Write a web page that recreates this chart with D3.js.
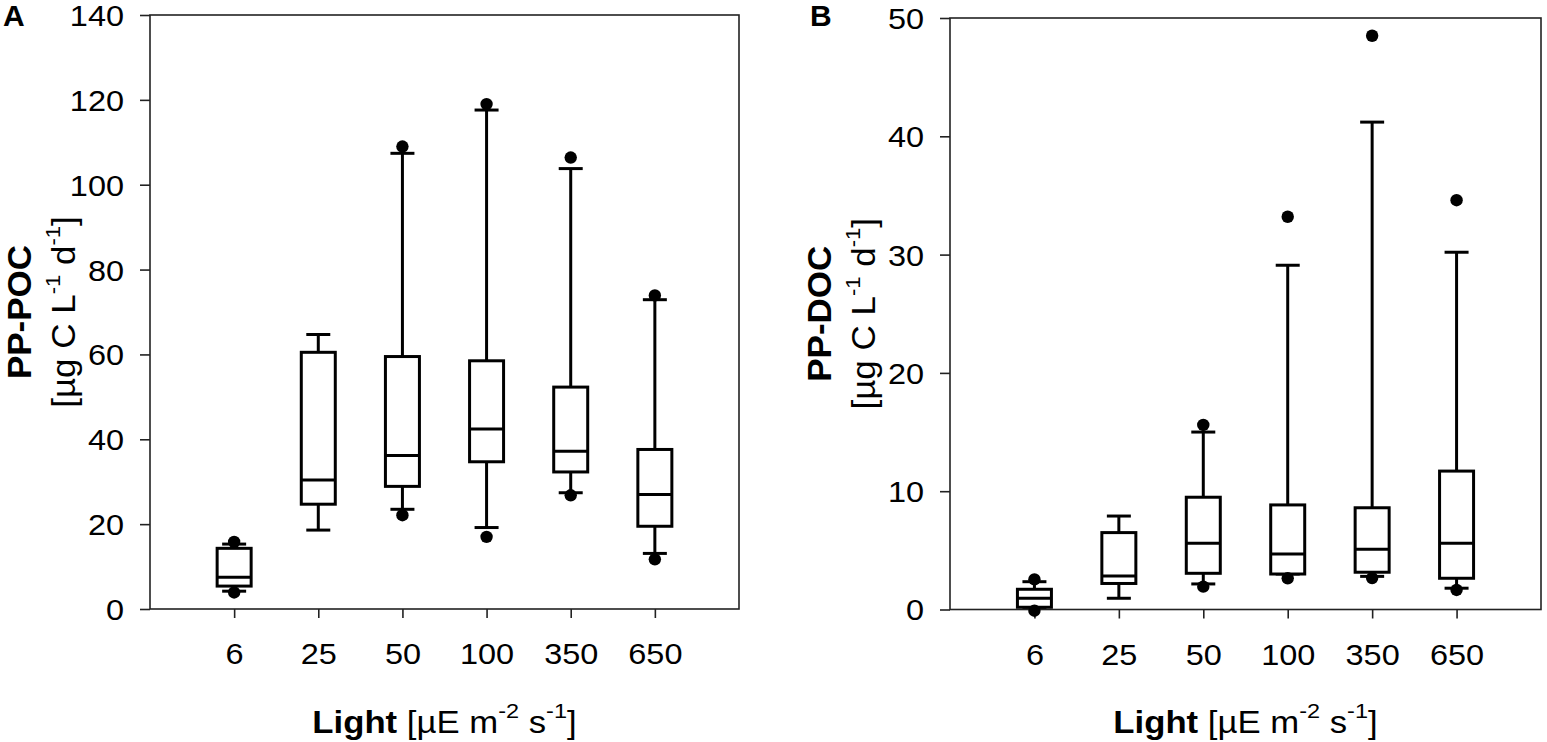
<!DOCTYPE html>
<html>
<head>
<meta charset="utf-8">
<script src="https://cdn.jsdelivr.net/npm/d3@7/dist/d3.min.js"></script>
<style>
  body { margin: 0; background: #fff; }
  svg { display: block; }
  svg text { font-family: "Liberation Sans", Arial, sans-serif; }
</style>
</head>
<body>
<svg id="chart" width="1547" height="742"></svg>
<script>
// light levels (x categories)
var lightLevels = ["6", "25", "50", "100", "350", "650"];

// panel A: PP-POC
var pocTicks = [0, 20, 40, 60, 80, 100, 120, 140];
var pocLow   = [4.2, 18.6, 23.5, 19.2, 27.4, 13.1];
var pocQ1    = [5.4, 24.7, 28.9, 34.7, 32.3, 19.5];
var pocMed   = [7.5, 30.4, 36.2, 42.4, 37.2, 27.0];
var pocQ3    = [14.3, 60.5, 59.5, 58.5, 52.3, 37.6];
var pocHigh  = [15.3, 64.7, 107.4, 117.6, 103.8, 72.9];
var pocOutLow  = [3.9, null, 22.1, 17.0, 26.8, 11.7];
var pocOutHigh = [15.8, null, 109.0, 119.0, 106.4, 73.9];

// panel B: PP-DOC
var docTicks = [0, 10, 20, 30, 40, 50];
var docLow   = [0.19, 0.95, 2.16, 3.0, 2.8, 1.8];
var docQ1    = [0.19, 2.2, 3.06, 3.0, 3.15, 2.64];
var docMed   = [0.95, 2.83, 5.6, 4.7, 5.1, 5.6];
var docQ3    = [1.71, 6.5, 9.49, 8.84, 8.6, 11.7];
var docHigh  = [2.35, 7.9, 15.0, 29.1, 41.2, 30.2];
var docOutLow  = [-0.1, null, 1.93, 2.64, 2.66, 1.65];
var docOutHigh = [2.55, null, 15.6, 33.2, 48.5, 34.6];

var svg = d3.select("#chart");
var sx = 1.12;   // horizontal stretch of the original figure text

function drawPanel(opt) {
    var x = d3.scaleLinear().domain([0, 7]).range([opt.left, opt.right]);
    var y = d3.scaleLinear().domain([0, opt.max]).range([opt.bottom, opt.top]);
    var g = svg.append("g");

    var rows = lightLevels.map(function(l, i) {
        return {label: l, pos: i + 1, lo: opt.low[i], q1: opt.q1[i], med: opt.med[i],
                q3: opt.q3[i], hi: opt.high[i], oLo: opt.outLow[i], oHi: opt.outHigh[i]};
    });

    // frame
    g.append("rect")
        .attr("x", opt.left).attr("y", y(opt.max))
        .attr("width", opt.right - opt.left).attr("height", opt.bottom - y(opt.max))
        .attr("fill", "none").attr("stroke", "#222").attr("stroke-width", 1.6);

    // y axis
    var yAxis = d3.axisLeft(y).tickValues(opt.ticks).tickSize(10).tickFormat(d3.format("d"));
    var ya = g.append("g").attr("transform", "translate(" + opt.left + ",0)").call(yAxis)
        .attr("font-family", null).attr("font-size", null);
    ya.select(".domain").remove();
    ya.selectAll(".tick line").attr("stroke", "#222").attr("stroke-width", 1.6);
    ya.selectAll(".tick text").remove();
    ya.selectAll(".tick").append("text")
        .attr("transform", "translate(-26,0) scale(" + sx + ",1)")
        .attr("dy", "0.36em")
        .attr("text-anchor", "end")
        .attr("fill", "#000")
        .style("font-size", "29px")
        .text(function(d) { return d; });

    // x axis
    var xAxis = d3.axisBottom(x).tickValues(rows.map(function(d) { return d.pos; })).tickSize(9);
    var xa = g.append("g").attr("transform", "translate(0," + opt.bottom + ")").call(xAxis)
        .attr("font-family", null).attr("font-size", null);
    xa.select(".domain").remove();
    xa.selectAll(".tick line").attr("stroke", "#222").attr("stroke-width", 1.6);
    xa.selectAll(".tick text").remove();
    xa.selectAll(".tick").append("text")
        .attr("transform", "translate(0,55) scale(" + sx + ",1)")
        .attr("text-anchor", "middle")
        .attr("fill", "#000")
        .style("font-size", "29px")
        .text(function(d, i) { return lightLevels[i]; });

    var boxW = 34, capW = 24;
    var box = g.selectAll(".box").data(rows).enter().append("g").attr("class", "box")
        .attr("stroke", "#000").attr("stroke-width", 3).attr("fill", "none");

    // whiskers
    box.append("line")
        .attr("x1", function(d) { return x(d.pos); }).attr("x2", function(d) { return x(d.pos); })
        .attr("y1", function(d) { return y(d.q3); }).attr("y2", function(d) { return y(d.hi); });
    box.append("line")
        .attr("x1", function(d) { return x(d.pos); }).attr("x2", function(d) { return x(d.pos); })
        .attr("y1", function(d) { return y(d.q1); }).attr("y2", function(d) { return y(d.lo); });
    box.append("line")
        .attr("x1", function(d) { return x(d.pos) - capW / 2; }).attr("x2", function(d) { return x(d.pos) + capW / 2; })
        .attr("y1", function(d) { return y(d.hi); }).attr("y2", function(d) { return y(d.hi); });
    box.append("line")
        .attr("x1", function(d) { return x(d.pos) - capW / 2; }).attr("x2", function(d) { return x(d.pos) + capW / 2; })
        .attr("y1", function(d) { return y(d.lo); }).attr("y2", function(d) { return y(d.lo); });

    // box and median
    box.append("rect")
        .attr("x", function(d) { return x(d.pos) - boxW / 2; })
        .attr("y", function(d) { return y(d.q3); })
        .attr("width", boxW)
        .attr("height", function(d) { return y(d.q1) - y(d.q3); })
        .attr("fill", "#fff");
    box.append("line")
        .attr("x1", function(d) { return x(d.pos) - boxW / 2; }).attr("x2", function(d) { return x(d.pos) + boxW / 2; })
        .attr("y1", function(d) { return y(d.med); }).attr("y2", function(d) { return y(d.med); });

    // outlier dots
    var outs = [];
    rows.forEach(function(d) {
        if (d.oLo != null) outs.push({pos: d.pos, v: d.oLo});
        if (d.oHi != null) outs.push({pos: d.pos, v: d.oHi});
    });
    g.selectAll(".out").data(outs).enter().append("circle").attr("class", "out")
        .attr("cx", function(d) { return x(d.pos); })
        .attr("cy", function(d) { return y(d.v); })
        .attr("r", 6.2)
        .attr("fill", "#000");

    // panel letter
    g.append("text")
        .attr("x", opt.letterX).attr("y", 26)
        .attr("font-weight", "bold").style("font-size", "30px")
        .text(opt.letter);

    // x title
    var cx = (opt.left + opt.right) / 2;
    var xt = g.append("text")
        .attr("transform", "translate(" + cx + ",733) scale(" + sx + ",1)")
        .attr("text-anchor", "middle")
        .style("font-size", "31px");
    xt.append("tspan").attr("font-weight", "bold").text("Light");
    xt.append("tspan").text(" [µE m");
    xt.append("tspan").attr("dy", -15).style("font-size", "21px").text("-2");
    xt.append("tspan").attr("dy", 15).text(" s");
    xt.append("tspan").attr("dy", -15).style("font-size", "21px").text("-1");
    xt.append("tspan").attr("dy", 15).text("]");

    // y title
    var cy = (opt.bottom + y(opt.max)) / 2;
    g.append("text")
        .attr("transform", "translate(" + (opt.left - 119) + "," + cy + ") scale(0.94,1) rotate(-90)")
        .attr("text-anchor", "middle")
        .attr("font-weight", "bold")
        .style("font-size", "35px")
        .text(opt.yName);
    var yt = g.append("text")
        .attr("transform", "translate(" + (opt.left - 75) + "," + cy + ") scale(0.94,1) rotate(-90)")
        .attr("text-anchor", "middle")
        .style("font-size", "35px");
    yt.append("tspan").text("[µg C L");
    yt.append("tspan").attr("dy", -16).style("font-size", "22px").text("-1");
    yt.append("tspan").attr("dy", 16).text(" d");
    yt.append("tspan").attr("dy", -16).style("font-size", "22px").text("-1");
    yt.append("tspan").attr("dy", 16).text("]");
}

drawPanel({
    left: 150, right: 739, top: 15, bottom: 609, max: 140, ticks: pocTicks,
    low: pocLow, q1: pocQ1, med: pocMed, q3: pocQ3, high: pocHigh,
    outLow: pocOutLow, outHigh: pocOutHigh,
    letter: "A", letterX: 3, yName: "PP-POC"
});

drawPanel({
    left: 950, right: 1541, top: 18, bottom: 609.5, max: 50, ticks: docTicks,
    low: docLow, q1: docQ1, med: docMed, q3: docQ3, high: docHigh,
    outLow: docOutLow, outHigh: docOutHigh,
    letter: "B", letterX: 810, yName: "PP-DOC"
});
</script>
</body>
</html>
